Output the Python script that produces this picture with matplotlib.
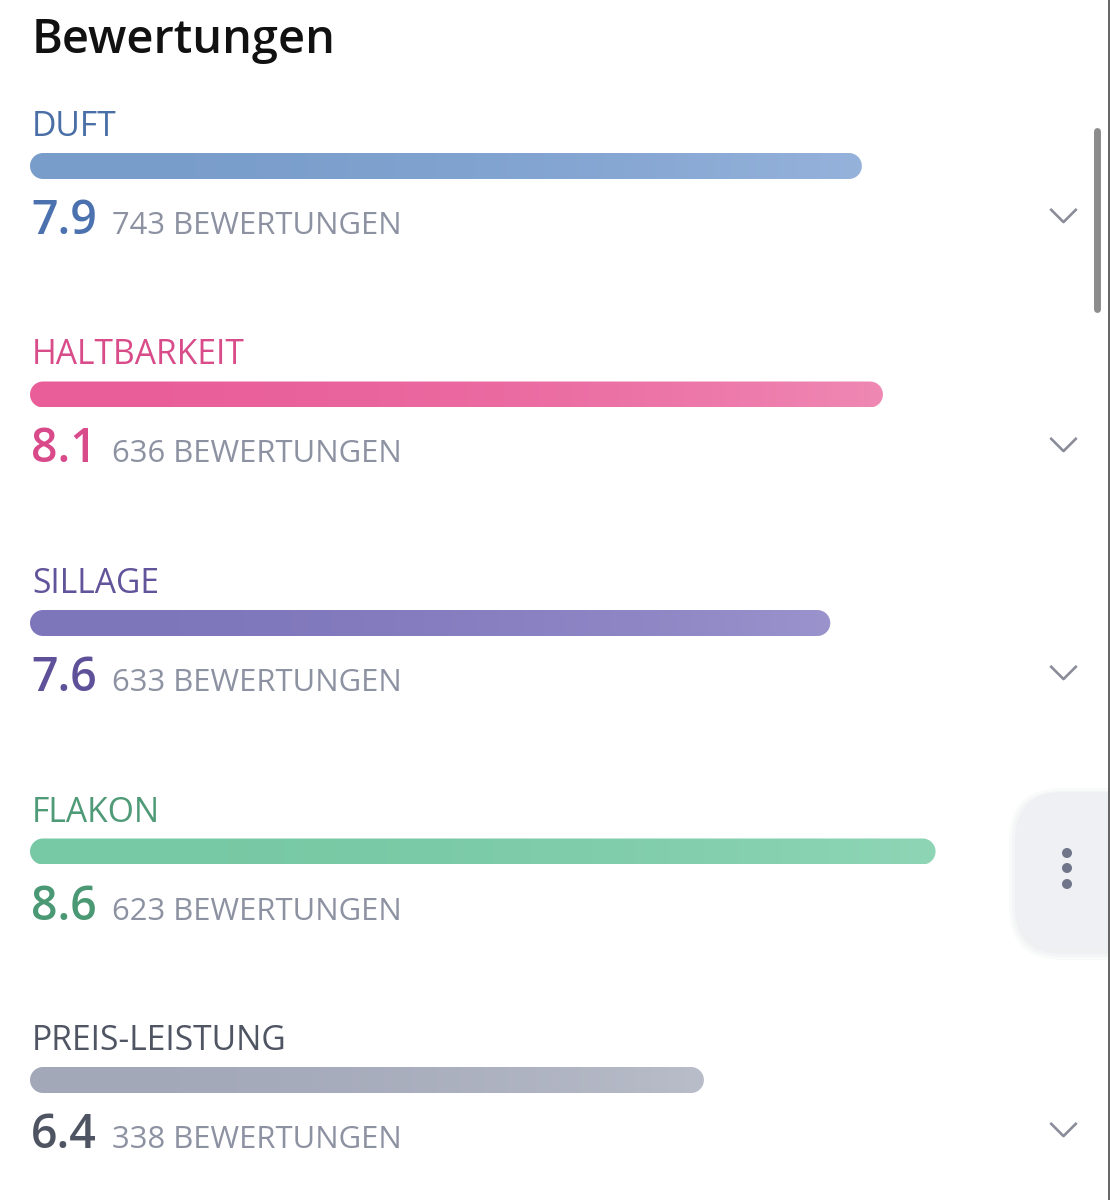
import matplotlib.pyplot as plt
import numpy as np
from matplotlib.patches import FancyBboxPatch, Circle, Polygon
from matplotlib.path import Path
from matplotlib.colors import LinearSegmentedColormap

plt.rcParams["font.family"] = ["Open Sans", "DejaVu Sans"]

# data
categories = ["DUFT", "HALTBARKEIT", "SILLAGE", "FLAKON", "PREIS-LEISTUNG"]
scores = [7.9, 8.1, 7.6, 8.6, 6.4]
counts = [743, 636, 633, 623, 338]
count_suffix = "BEWERTUNGEN"
title = "Bewertungen"

label_colors = ["#4a6fa6", "#d94c8a", "#62549a", "#4f9a77", "#4f5563"]
score_colors = ["#4b72ae", "#d94a8b", "#5f5199", "#4b9874", "#4e5461"]
bar_left = ["#799dcb", "#e95e99", "#7e76bb", "#77c8a4", "#a3a8b9"]
bar_right = ["#95b2db", "#ef88b3", "#9b93cc", "#8ed5b6", "#b9bdc9"]
count_color = "#8d92a2"

W, H = 1110, 1200
x0_px, px_per_unit = 30, 105.3      # score 0 at x=30px, 10 at ~1083px
row0_px, row_step = 166, 228.5      # bar centres

fig = plt.figure(figsize=(W / 100, H / 100), dpi=100)
fig.patch.set_facecolor("white")
ax = fig.add_axes([0, 0, 1, 1])
ax.axis("off")


def dy(px):
    return px / row_step


def dx(px):
    return px / px_per_unit


def stadium(x_end, yc, rx, ry, n=40):
    # horizontal bar with fully rounded ends
    t = np.linspace(np.pi / 2, 3 * np.pi / 2, n)
    left = np.column_stack([rx + rx * np.cos(t), yc - ry * np.sin(t)])
    t2 = np.linspace(-np.pi / 2, np.pi / 2, n)
    right = np.column_stack([x_end - rx + rx * np.cos(t2), yc - ry * np.sin(t2)])
    return np.vstack([left, right])


bar_h = dy(26)
r_x, r_y = dx(13), dy(13)
ramp = np.linspace(0, 1, 256) ** 2

for i, (cat, s, n) in enumerate(zip(categories, scores, counts)):
    # rounded gradient bar
    shape = Polygon(stadium(s, i, r_x, r_y), closed=True, fc="none", ec="none")
    ax.add_patch(shape)
    cmap = LinearSegmentedColormap.from_list(cat, [bar_left[i], bar_right[i]])
    im = ax.imshow(ramp[None, :], cmap=cmap, aspect="auto",
                   extent=[0, s, i + bar_h / 2, i - bar_h / 2],
                   interpolation="bilinear")
    im.set_clip_path(shape)

    ax.text(dx(2), i - dy(30), cat, fontsize=24.2, color=label_colors[i],
            va="baseline", ha="left")
    ax.text(dx(1), i + dy(68), f"{s:.1f}", fontsize=33.5, fontweight="semibold",
            color=score_colors[i], va="baseline", ha="left")
    ax.text(dx(82), i + dy(68), f"{n} {count_suffix}", fontsize=22.3,
            color=count_color, va="baseline", ha="left")

# expand chevrons on the right
chev = Path([(-1, 0.5), (0, -0.5), (1, 0.5)],
            [Path.MOVETO, Path.LINETO, Path.LINETO])
ax.plot(np.full(len(categories), dx(1063 - x0_px)),
        np.arange(len(categories)) + dy(49),
        ls="none", marker=chev, markersize=19, mfc="none",
        mec="#8a8d99", mew=1.9)

ax.set_xlim(-x0_px / px_per_unit, (W - x0_px) / px_per_unit)
ax.set_ylim((H - row0_px) / row_step, -row0_px / row_step)

# UI overlay in pixel coordinates
ui = fig.add_axes([0, 0, 1, 1])
ui.set_xlim(0, W)
ui.set_ylim(H, 0)
ui.axis("off")
ui.patch.set_alpha(0)

ui.text(32, 53, title, fontsize=33.8, fontweight="semibold", color="#111111",
        va="baseline", ha="left")

# scrollbar
ui.plot([1097, 1097], [131, 309], color="#8c8c8c", lw=5, solid_capstyle="round")
ui.plot([1109, 1109], [0, H], color="#4a4a4a", lw=1.2)

# floating menu button with soft shadow
for k, a in enumerate([0.05, 0.05, 0.06]):
    g = 8 - 3 * k
    ui.add_patch(FancyBboxPatch((1017 - g, 792 - g + 4), 140 + 2 * g, 156 + 2 * g,
                                boxstyle=f"round,pad=0,rounding_size={45 + g}",
                                fc="#9aa0ad", ec="none", alpha=a))
ui.add_patch(FancyBboxPatch((1017, 792), 140, 156,
                            boxstyle="round,pad=0,rounding_size=45",
                            fc="#eff0f4", ec="none"))
for yy in [853, 868, 884]:
    ui.add_patch(Circle((1067, yy), 5, fc="#717589", ec="none"))

fig.savefig("out.png", dpi=100, facecolor="white")
